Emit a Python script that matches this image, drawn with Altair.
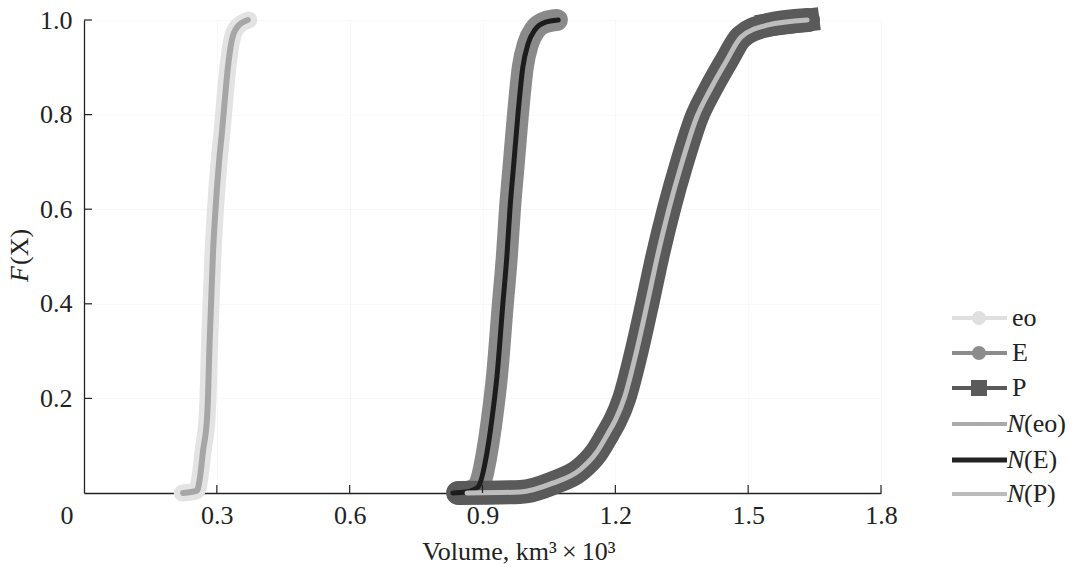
import altair as alt
import pandas as pd

# ---------------- data ----------------
# empirical curves (thick) and normal fits (thin)
eo_x = [0.222, 0.255, 0.262, 0.269, 0.278, 0.280, 0.283, 0.287, 0.291, 0.297, 0.305, 0.312, 0.318, 0.325, 0.334, 0.346, 0.372]
eo_F = [0.0, 0.005, 0.033, 0.09, 0.16, 0.2, 0.3, 0.4, 0.5, 0.6, 0.7, 0.767, 0.831, 0.9, 0.958, 0.985, 1.0]

Neo_x = [0.224, 0.255, 0.262, 0.269, 0.278, 0.280, 0.283, 0.287, 0.291, 0.297, 0.305, 0.312, 0.318, 0.325, 0.334, 0.346, 0.370]
Neo_F = [0.0, 0.005, 0.033, 0.09, 0.16, 0.2, 0.3, 0.4, 0.5, 0.6, 0.7, 0.767, 0.831, 0.9, 0.958, 0.985, 1.0]

E_x = [0.845, 0.866, 0.890, 0.910, 0.921, 0.933, 0.946, 0.955, 0.962, 0.971, 0.980, 0.991, 1.003, 1.019, 1.041, 1.068]
E_F = [0.0, 0.002, 0.013, 0.085, 0.154, 0.25, 0.4, 0.5, 0.6, 0.7, 0.8, 0.9, 0.95, 0.98, 0.995, 1.0]

NE_x = [0.833, 0.862, 0.890, 0.910, 0.921, 0.933, 0.946, 0.955, 0.962, 0.971, 0.980, 0.991, 1.003, 1.019, 1.041, 1.071]
NE_F = [0.0, 0.002, 0.013, 0.085, 0.154, 0.25, 0.4, 0.5, 0.6, 0.7, 0.8, 0.9, 0.95, 0.98, 0.995, 1.0]

P_x = [0.845, 0.985, 1.059, 1.120, 1.157, 1.184, 1.200, 1.220, 1.248, 1.272, 1.295, 1.321, 1.351, 1.384, 1.414, 1.452, 1.484, 1.543, 1.635]
P_F = [0.0, 0.002, 0.021, 0.049, 0.085, 0.127, 0.154, 0.2, 0.3, 0.4, 0.5, 0.6, 0.7, 0.795, 0.852, 0.915, 0.964, 0.989, 1.0]

NP_x = [0.865, 0.985, 1.059, 1.120, 1.157, 1.184, 1.200, 1.220, 1.248, 1.272, 1.295, 1.321, 1.351, 1.384, 1.414, 1.452, 1.484, 1.543, 1.633]
NP_F = [0.0, 0.002, 0.021, 0.049, 0.085, 0.127, 0.154, 0.2, 0.3, 0.4, 0.5, 0.6, 0.7, 0.795, 0.852, 0.915, 0.964, 0.989, 1.0]

x_ticks = [0.3, 0.6, 0.9, 1.2, 1.5, 1.8]
y_ticks = [0.2, 0.4, 0.6, 0.8, 1.0]

legend_names = ["eo", "E", "P", "N(eo)", "N(E)", "N(P)"]

FONT = "Liberation Serif"
INK = "#222222"

x_scale = alt.Scale(domain=[0, 1.8], nice=False, zero=False)
y_scale = alt.Scale(domain=[0, 1.0], nice=False)

X_AXIS = alt.Axis(values=x_ticks, format=".1f", ticks=False, labelFont=FONT,
                  labelFontSize=26, labelColor=INK, labelPadding=9,
                  domainColor=INK, domainWidth=1.3, grid=True,
                  gridColor="#f8f8f8", title=None, labelFlush=False)
Y_AXIS = alt.Axis(values=y_ticks, format=".1f", ticks=False, labelFont=FONT,
                  labelFontSize=26, labelColor=INK, labelPadding=12,
                  domainColor=INK, domainWidth=1.3, grid=True,
                  gridColor="#f8f8f8", title=None, labelFlush=False)


def df_of(xs, fs):
    return pd.DataFrame({"x": xs, "F": fs, "i": list(range(len(xs)))})


def curve(xs, fs, color, width, cap="round", interp="monotone"):
    return alt.Chart(df_of(xs, fs)).mark_line(
        color=color, strokeWidth=width, strokeCap=cap, strokeJoin="round",
        interpolate=interp
    ).encode(
        x=alt.X("x:Q", scale=x_scale, axis=X_AXIS),
        y=alt.Y("F:Q", scale=y_scale, axis=Y_AXIS),
        order=alt.Order("i:Q"),
    )


layers = [
    curve(eo_x, eo_F, "#e3e3e3", 17),
    curve(E_x, E_F, "#8a8a8a", 22),
    curve(P_x, P_F, "#5a5a5a", 24, cap="round"),
    # square end of the P band at its upper end (square markers)
    curve(P_x[-2:], P_F[-2:], "#5a5a5a", 23, cap="square", interp="linear"),
    curve(Neo_x, Neo_F, "#a6a6a6", 6),
    curve(NE_x, NE_F, "#1c1c1c", 5),
    curve(NP_x, NP_F, "#bdbdbd", 5),
]

# inward-pointing ticks
layers.append(
    alt.Chart(pd.DataFrame({"t": x_ticks})).mark_rule(color=INK, strokeWidth=1.2).encode(
        x=alt.X("t:Q", scale=x_scale, axis=X_AXIS), y=alt.value(473), y2=alt.value(465)
    )
)
layers.append(
    alt.Chart(pd.DataFrame({"t": y_ticks})).mark_rule(color=INK, strokeWidth=1.2).encode(
        y=alt.Y("t:Q", scale=y_scale, axis=Y_AXIS), x=alt.value(0), x2=alt.value(8)
    )
)

one = pd.DataFrame({"a": [0]})


def text(t, x, y, size=26, italic=False, align="center", baseline="middle", angle=0):
    kw = dict(text=t, font=FONT, fontSize=size, color=INK, align=align, baseline=baseline)
    if italic:
        kw["fontStyle"] = "italic"
    if angle:
        kw["angle"] = angle
    return alt.Chart(one).mark_text(**kw).encode(x=alt.value(x), y=alt.value(y))


# origin label, axis titles
layers.append(text("0", -17, 496))
layers.append(text("Volume, km\u00b3\u2009\u00d7\u200910\u00b3", 435, 540, size=26, baseline="alphabetic"))
layers.append(text("F", -64, 246, italic=True, align="right", angle=270))
layers.append(text("(X)", -64, 245, align="left", angle=270))

# legend
leg_style = [
    ("#e0e0e0", 4, "circle", 196),
    ("#8c8c8c", 4, "circle", 196),
    ("#5a5a5a", 4, "square", 256),
    ("#aaaaaa", 4, "circle", 16),
    ("#222222", 5, "circle", 16),
    ("#bbbbbb", 4, "circle", 16),
]
leg_y = [298, 333, 368, 404, 440, 474]
for name, (col, w, shape, size), yy in zip(legend_names, leg_style, leg_y):
    layers.append(
        alt.Chart(one).mark_rule(color=col, strokeWidth=w).encode(
            x=alt.value(868), x2=alt.value(923), y=alt.value(yy)
        )
    )
    layers.append(
        alt.Chart(one).mark_point(shape=shape, size=size, filled=True, color=col, opacity=1).encode(
            x=alt.value(895), y=alt.value(yy)
        )
    )
    if name.startswith("N("):
        layers.append(text("N", 923, yy, size=26, italic=True, align="left"))
        layers.append(text(name[1:], 940, yy, size=26, align="left"))
    else:
        layers.append(text(name, 928, yy, size=26, align="left"))

chart = alt.layer(*layers).properties(
    width=797,
    height=473,
    padding={"left": 84, "top": 20, "right": 192, "bottom": 74},
    autosize=alt.AutoSizeParams(type="none"),
    background="white",
).configure_view(stroke=None)

chart.save("out.html", embed_options={"renderer": "svg", "actions": False})
